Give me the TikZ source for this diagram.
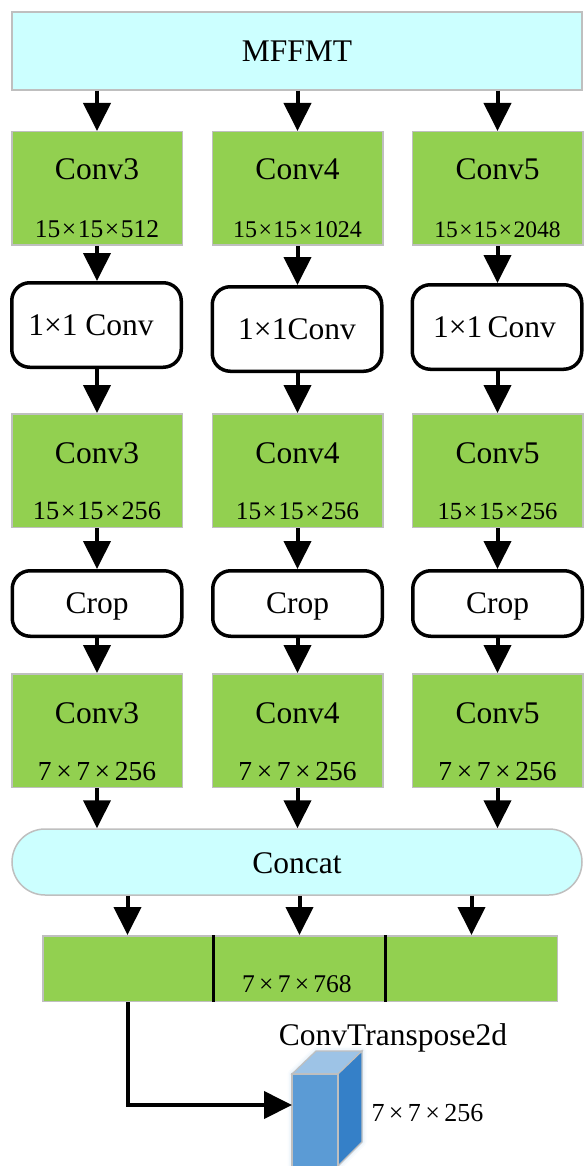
\documentclass[tikz,border=0pt]{standalone}
\usepackage{fontspec}
\setmainfont{Liberation Serif}
\usetikzlibrary{arrows.meta,calc}
\definecolor{cyanbox}{HTML}{CCFFFF}
\definecolor{greenbox}{HTML}{92D050}
\definecolor{edgegrey}{HTML}{BFBFBF}
\definecolor{cubefront}{HTML}{5B9BD5}
\definecolor{cubeside}{HTML}{3580C8}
\definecolor{cubetop}{HTML}{9DC3E6}
\definecolor{cubeglow}{HTML}{DCEBF8}
\newcommand{\tx}{\,×\,}
\newcommand{\sx}{\hspace{0.06em}×\hspace{0.06em}}
\newcommand{\fs}[1]{\fontsize{#1}{#1}\selectfont}

\begin{document}
\begin{tikzpicture}[x=1pt,y=-1pt,
  gbox/.style={draw=edgegrey, fill=greenbox, line width=1.5pt,
    minimum width=170.5pt, minimum height=113.5pt, inner sep=0pt},
  opbox/.style={draw=black, fill=white, line width=3.5pt, rounded corners=18pt,
    minimum width=169.5pt, inner sep=0pt},
  cbox/.style={draw=edgegrey, fill=cyanbox, line width=1.5pt, inner sep=0pt},
  lab/.style={anchor=base, inner sep=0pt, font=\fs{31.5}},
  dimlab/.style={anchor=base, inner sep=0pt},
  arr/.style={line width=4pt, -{Triangle[width=27pt,length=28pt]}}
]
\useasboundingbox (0,0) rectangle (584,1166);

% input block
\node[cbox, minimum width=570pt, minimum height=78pt] (mf) at (297,51) {};
\node[lab] (mft) at (297,62) {MFFMT};

% three parallel branches
\foreach \c/\x/\n/\d/\s/\t in {a/97/3/512/25.5/26.3, b/297.5/4/1024/24/25.3, c/497.5/5/2048/23.5/24.6}{
  \node[gbox] (g1\c) at (\x,188.5) {};
  \node[lab] (g1t\c) at (\x,180) {Conv\n};
  \node[dimlab, font=\fs{\s}] (g1d\c) at (\x,237) {15\sx15\sx\d};
  \node[gbox] (g2\c) at (\x,470.5) {};
  \node[lab] (g2t\c) at (\x,463) {Conv\n};
  \node[dimlab, font=\fs{\t}] (g2d\c) at (\x,519) {15\sx15\sx256};
  \node[gbox] (g3\c) at (\x,730.5) {};
  \node[lab] (g3t\c) at (\x,723) {Conv\n};
  \node[dimlab, font=\fs{27.5}] (g3d\c) at (\x,780) {7\tx7\tx256};
  \node[opbox, minimum height=65.5pt] (cr\c) at (\x,603.5) {};
  \node[lab] (crt\c) at (\x,613) {Crop};
}

% 1x1 convolution blocks
\node[opbox, minimum height=84.5pt] (r1a) at (96.5,325) {};
\node[opbox, minimum height=84.5pt] (r1b) at (297,329) {};
\node[opbox, minimum height=84.5pt] (r1c) at (497,327) {};
\node[lab] (r1ta) at (91,335) {1×1 Conv};
\node[lab] (r1tb) at (297,339) {1×1Conv};
\node[lab] (r1tc) at (494.5,337) {1×1\hspace{-0.08em} Conv};

% fusion
\node[cbox, rounded corners=33pt, minimum width=570pt, minimum height=66pt] (cat) at (297,862) {};
\node[lab] (catt) at (297,873) {Concat};

% concatenated feature map
\node[gbox, minimum width=514.5pt, minimum height=65.5pt] (bar) at (300,968.5) {};
\coordinate (s1) at (127.5,968.5);
\coordinate (s2) at (299.5,968.5);
\coordinate (s3) at (471.5,968.5);
\draw[line width=3pt] (213,935) -- (213,1002) (385,935) -- (385,1002);
\node[dimlab, font=\fs{25.5}] (bart) at (297,992) {7\tx7\tx768};

% arrows down each branch
\foreach \c in {a,b,c}{
  \draw[arr] (mf.south -| g1\c) -- (g1\c.north);
  \draw[arr] (g1\c.south) -- (r1\c.north -| g1\c);
  \draw[arr] (r1\c.south -| g1\c) -- (g2\c.north);
  \draw[arr] (g2\c.south) -- (cr\c.north -| g2\c);
  \draw[arr] (cr\c.south -| g2\c) -- (g3\c.north);
  \draw[arr] (g3\c.south) -- (cat.north -| g3\c);
}
\foreach \k in {1,2,3}{
  \draw[arr] (cat.south -| s\k) -- (bar.north -| s\k);
}

% transposed convolution block with a faint halo
\foreach \w/\o in {9/0.15, 6/0.25, 3/0.4}{
  \draw[cubeglow, line width=\w pt, line join=round, opacity=\o]
    (292,1074) -- (316,1051) -- (362,1051) -- (362,1142) -- (338,1166) -- (292,1166) -- cycle;
}
\coordinate (cubein) at (292,1105);
\draw[edgegrey, line width=1.2pt, fill=cubetop] (292,1074) -- (316,1051) -- (362,1051) -- (338,1074) -- cycle;
\draw[edgegrey, line width=1.2pt, fill=cubeside] (338,1074) -- (362,1051) -- (362,1142) -- (338,1166) -- cycle;
\draw[edgegrey, line width=1.2pt, fill=cubefront] (292,1074) rectangle (338,1167);
\node[dimlab, font=\fs{31.5}] (ctt) at (393,1045) {ConvTranspose2d};
\node[dimlab, font=\fs{26}] (ctd) at (427.5,1121) {7\tx7\tx256};

\draw[arr] (bar.south -| s1) |- (cubein);
\end{tikzpicture}
\end{document}
